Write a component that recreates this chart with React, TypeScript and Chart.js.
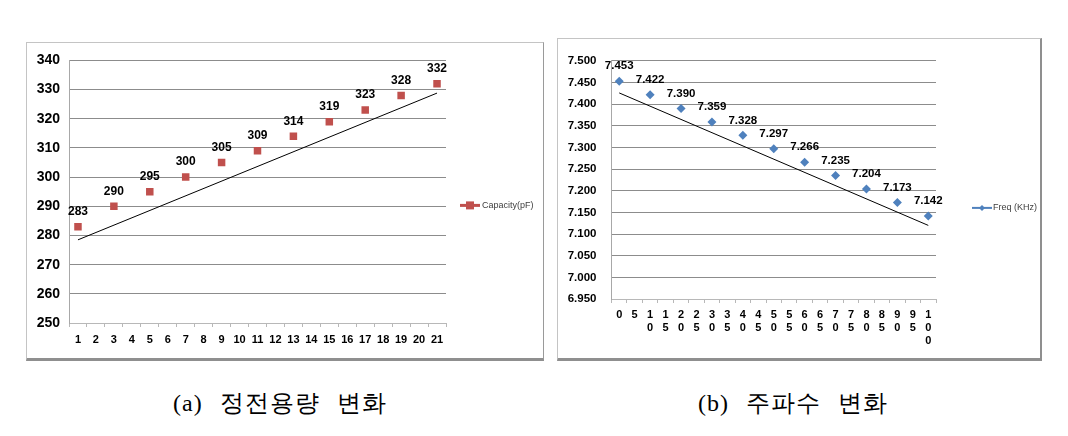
import React, { useEffect, useRef } from 'react';
import { Chart, registerables } from 'chart.js';

Chart.register(...registerables);

// ---------- data: (a) capacity ----------
const capCategories = ['1', '2', '3', '4', '5', '6', '7', '8', '9', '10', '11', '12', '13', '14', '15', '16', '17', '18', '19', '20', '21'];
const capValues: (number | null)[] = [283, null, 290, null, 295, null, 300, null, 305, null, 309, null, 314, null, 319, null, 323, null, 328, null, 332];
const capTrendEnds = [278.5, 328.8]; // trendline value at first and last category
const capAxisRange = [250, 340, 10]; // min, max, step
const capSeriesName = 'Capacity(pF)';

// ---------- data: (b) frequency ----------
const freqCategories = [0, 5, 10, 15, 20, 25, 30, 35, 40, 45, 50, 55, 60, 65, 70, 75, 80, 85, 90, 95, 100];
const freqValues: (number | null)[] = [7.453, null, 7.422, null, 7.39, null, 7.359, null, 7.328, null, 7.297, null, 7.266, null, 7.235, null, 7.204, null, 7.173, null, 7.142];
const freqTrendEnds = [7.426, 7.12];
const freqAxisRange = [6.95, 7.5, 0.05];
const freqSeriesName = 'Freq (KHz)';

const captions = ['(a) 정전용량 변화', '(b) 주파수 변화'];

const FONT = "'Liberation Sans', Arial, sans-serif";

const valueLabelPlugin = {
  id: 'valueLabels',
  afterDatasetsDraw(chart: any, _args: any, o: any) {
    const ctx = chart.ctx;
    const meta = chart.getDatasetMeta(0);
    const data = chart.data.datasets[0].data;
    ctx.save();
    ctx.font = o.font;
    ctx.fillStyle = '#000';
    ctx.textAlign = 'center';
    ctx.textBaseline = 'middle';
    meta.data.forEach((el: any, i: number) => {
      const v = data[i];
      if (v === null || v === undefined) return;
      ctx.fillText(o.format(v), el.x, el.y - o.offset);
    });
    ctx.restore();
  },
};

const sideLegendPlugin = {
  id: 'sideLegend',
  afterDraw(chart: any, _args: any, o: any) {
    const ctx = chart.ctx;
    const area = chart.chartArea;
    const ds = chart.data.datasets[0];
    const x0 = area.right + o.dx;
    const y = area.top + o.dy;
    ctx.save();
    ctx.strokeStyle = ds.borderColor;
    ctx.lineWidth = o.lineWidth;
    ctx.beginPath();
    ctx.moveTo(x0, y);
    ctx.lineTo(x0 + o.len, y);
    ctx.stroke();
    const cx = x0 + o.len / 2;
    ctx.fillStyle = ds.pointBackgroundColor;
    ctx.beginPath();
    if (o.marker === 'rect') {
      ctx.rect(cx - o.size, y - o.size, o.size * 2, o.size * 2);
    } else {
      ctx.moveTo(cx, y - o.size);
      ctx.lineTo(cx + o.size, y);
      ctx.lineTo(cx, y + o.size);
      ctx.lineTo(cx - o.size, y);
      ctx.closePath();
    }
    ctx.fill();
    ctx.font = o.font;
    ctx.fillStyle = '#404040';
    ctx.textAlign = 'left';
    ctx.textBaseline = 'middle';
    ctx.fillText(ds.label, x0 + o.len + o.gap, y);
    ctx.restore();
  },
};

function trendFrom(n: number, ends: number[]) {
  return Array.from({ length: n }, (_, i) => (i === 0 ? ends[0] : i === n - 1 ? ends[1] : null));
}

type PanelCfg = {
  labels: any[];
  values: (number | null)[];
  trend: number[];
  range: number[];
  name: string;
  color: string;
  pointStyle: string;
  pointRadius: number;
  width: number;
  height: number;
  padding: { top: number; right: number; bottom: number; left: number };
  yWidth: number;
  xHeight: number;
  yPad: number;
  yFont: number;
  xFont: number;
  xLineHeight: number;
  labelFont: string;
  fmt: (v: number) => string;
  legend: any;
};

function ChartPanel({ cfg }: { cfg: PanelCfg }) {
  const ref = useRef<HTMLCanvasElement>(null);
  useEffect(() => {
    if (!ref.current) return;
    const [min, max, step] = cfg.range;
    const chart = new Chart(ref.current, {
      type: 'line',
      data: {
        labels: cfg.labels,
        datasets: [
          {
            label: cfg.name,
            data: cfg.values,
            showLine: false,
            borderColor: cfg.color,
            backgroundColor: cfg.color,
            pointBackgroundColor: cfg.color,
            pointBorderColor: cfg.color,
            pointBorderWidth: 0,
            pointStyle: cfg.pointStyle as any,
            pointRadius: cfg.pointRadius,
          },
          {
            label: 'trend',
            data: trendFrom(cfg.labels.length, cfg.trend),
            borderColor: '#000',
            borderWidth: 1,
            pointRadius: 0,
            spanGaps: true,
            fill: false,
          },
        ],
      },
      options: {
        responsive: false,
        animation: false,
        events: [],
        layout: { padding: cfg.padding },
        plugins: {
          legend: { display: false },
          tooltip: { enabled: false },
          valueLabels: { font: cfg.labelFont, offset: 15, format: cfg.fmt },
          sideLegend: cfg.legend,
        } as any,
        scales: {
          x: {
            type: 'category',
            offset: true,
            grid: {
              offset: true,
              drawOnChartArea: false,
              drawTicks: true,
              tickLength: 4,
              color: '#b8b8b8',
            },
            border: { color: '#b8b8b8', width: 1 },
            ticks: {
              autoSkip: false,
              maxRotation: 0,
              padding: 6,
              color: '#000',
              font: { family: FONT, size: cfg.xFont, weight: 'bold', lineHeight: cfg.xLineHeight },
            },
            afterFit(scale: any) {
              scale.height = cfg.xHeight;
            },
          },
          y: {
            min,
            max,
            grid: {
              drawTicks: false,
              color: (c: any) => (c.tick && Math.abs(c.tick.value - min) < 1e-9 ? '#b8b8b8' : '#8c8c8c'),
              lineWidth: 1,
            },
            border: { color: '#a8a8a8', width: 1 },
            ticks: {
              stepSize: step,
              padding: cfg.yPad,
              color: '#000',
              font: { family: FONT, size: cfg.yFont, weight: 'bold' },
              callback: (v: any) => cfg.fmt(Number(v)),
            },
            afterFit(scale: any) {
              scale.width = cfg.yWidth;
            },
          },
        },
      },
      plugins: [valueLabelPlugin, sideLegendPlugin],
    } as any);
    return () => chart.destroy();
  }, [cfg]);
  return <canvas ref={ref} width={cfg.width} height={cfg.height} style={{ display: 'block' }} />;
}

const capCfg: PanelCfg = {
  labels: capCategories,
  values: capValues,
  trend: capTrendEnds,
  range: capAxisRange,
  name: capSeriesName,
  color: '#C0504D',
  pointStyle: 'rect',
  pointRadius: 5.3,
  width: 516,
  height: 315,
  padding: { top: 13, right: 97, bottom: 5, left: 0 },
  yWidth: 42,
  xHeight: 30,
  yPad: 9,
  yFont: 14,
  xFont: 11,
  xLineHeight: 1.2,
  labelFont: `bold 12px ${FONT}`,
  fmt: (v: number) => String(Math.round(v)),
  legend: { dx: 14, dy: 145, len: 20, gap: 2, lineWidth: 3, marker: 'rect', size: 4, font: `9px ${FONT}` },
};

const freqCfg: PanelCfg = {
  labels: freqCategories.map((c) => {
    const s = String(c).split('');
    return s.length === 1 ? s[0] : s;
  }),
  values: freqValues,
  trend: freqTrendEnds,
  range: freqAxisRange,
  name: freqSeriesName,
  color: '#4F81BD',
  pointStyle: 'rectRot',
  pointRadius: 4.5,
  width: 482,
  height: 319,
  padding: { top: 14, right: 104, bottom: 6, left: 0 },
  yWidth: 53.5,
  xHeight: 53,
  yPad: 15,
  yFont: 11.5,
  xFont: 11,
  xLineHeight: 1.15,
  labelFont: `bold 11.5px ${FONT}`,
  fmt: (v: number) => v.toFixed(3),
  legend: { dx: 36, dy: 147, len: 20, gap: 1, lineWidth: 2, marker: 'diamond', size: 3, font: `9px ${FONT}` },
};

export default function App() {
  return (
    <div style={{ position: 'fixed', left: 0, top: 0, width: 1068, height: 436, background: '#fff', overflow: 'hidden' }}>
      <div
        style={{
          position: 'absolute',
          left: 26,
          top: 42,
          width: 516,
          height: 315,
          borderTop: '1px solid #c4c4c4',
          borderLeft: '1px solid #c4c4c4',
          borderRight: '1px solid #9a9a9a',
          borderBottom: '3px solid #8f8f8f',
        }}
      >
        <ChartPanel cfg={capCfg} />
      </div>
      <div
        style={{
          position: 'absolute',
          left: 557,
          top: 38,
          width: 482,
          height: 319,
          borderTop: '1px solid #c4c4c4',
          borderLeft: '1px solid #c4c4c4',
          borderRight: '2px solid #8f8f8f',
          borderBottom: '3px solid #8f8f8f',
        }}
      >
        <ChartPanel cfg={freqCfg} />
      </div>
      {captions.map((t, i) => (
        <div
          key={t}
          style={{
            position: 'absolute',
            left: i === 0 ? 173 : 698,
            top: 388,
            whiteSpace: 'nowrap',
            fontFamily: "'Liberation Serif', serif",
            fontSize: 24,
            lineHeight: '30px',
            letterSpacing: 1,
            wordSpacing: 10,
            color: '#000',
          }}
        >
          {t}
        </div>
      ))}
    </div>
  );
}
